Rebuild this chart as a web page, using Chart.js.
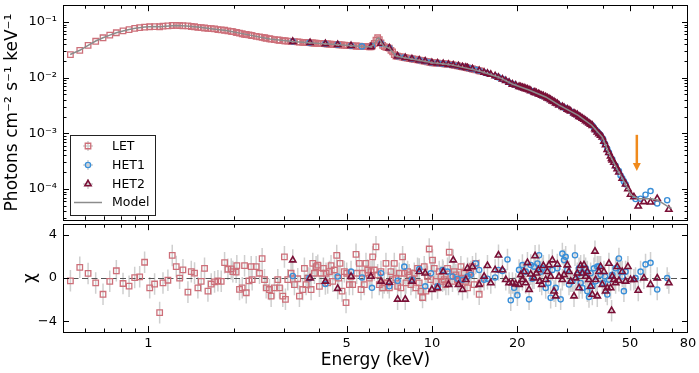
<!DOCTYPE html>
<html>
<head>
<meta charset="utf-8">
<title>Spectrum and residuals</title>
<script src="https://cdn.jsdelivr.net/npm/chart.js@4.4.1/dist/chart.umd.min.js"></script>
<style>
  html, body { margin: 0; padding: 0; background: #fff; }
  #wrap { position: relative; width: 699px; height: 373px; overflow: hidden; }
  #wrap canvas { position: absolute; left: 0; }
  #spec { top: 0; }
  #resid { top: 219px; }
</style>
</head>
<body>
<div id="wrap">
  <canvas id="spec" width="699" height="225"></canvas>
  <canvas id="resid" width="699" height="154"></canvas>
</div>
<script>
// ---- data (energy in keV, flux in photons cm^-2 s^-1 keV^-1, chi residuals) ----
const letEnergy = [
  0.531, 0.573, 0.613, 0.652, 0.692, 0.731, 0.771, 0.814, 0.855, 0.895,
  0.932, 0.970, 1.011, 1.052, 1.096, 1.126, 1.172, 1.214, 1.254, 1.289,
  1.324, 1.379, 1.417, 1.455, 1.495, 1.536, 1.578, 1.622, 1.666, 1.712,
  1.759, 1.807, 1.857, 1.908, 1.960, 1.986, 2.040, 2.051, 2.096, 2.143,
  2.184, 2.214, 2.262, 2.305, 2.323, 2.400, 2.466, 2.519, 2.568, 2.603,
  2.674, 2.710, 2.784, 2.861, 2.900, 2.979, 3.019, 3.044, 3.102, 3.187,
  3.274, 3.364, 3.410, 3.503, 3.551, 3.600, 3.649, 3.749, 3.800, 3.852,
  3.904, 3.958, 4.011, 4.064, 4.142, 4.233, 4.290, 4.349, 4.408, 4.468,
  4.529, 4.616, 4.692, 4.742, 4.820, 4.912, 4.979, 5.006, 5.115, 5.185,
  5.255, 5.399, 5.428, 5.547, 5.622, 5.698, 5.776, 5.854, 5.934, 6.014,
  6.096, 6.180, 6.263, 6.349, 6.436, 6.523, 6.612, 6.703, 6.792, 6.885,
  6.979, 7.075, 7.170, 7.268, 7.368, 7.466, 7.568, 7.671, 7.775, 7.882,
  7.989, 8.096, 8.207, 8.319, 8.431, 8.546, 8.663, 8.781, 8.899, 9.021,
  9.144, 9.268, 9.395, 9.523, 9.652, 9.784, 9.917, 10.05, 10.19, 10.33,
  10.47, 10.61, 10.76, 10.90, 11.05, 11.20, 11.35, 11.51, 11.66, 11.82,
  11.98, 12.15, 12.31, 12.48, 12.65, 12.82, 12.99, 13.17, 13.35, 13.53,
  13.72, 13.90, 14.09, 14.28, 14.68, 14.87
];
const letFlux = [
  0.026, 0.031, 0.038, 0.045, 0.052, 0.058, 0.064, 0.069, 0.073, 0.077,
  0.079, 0.081, 0.082, 0.0825, 0.082, 0.084, 0.085, 0.0865, 0.087, 0.086,
  0.0855, 0.085, 0.083, 0.082, 0.080, 0.079, 0.078, 0.077, 0.076, 0.075,
  0.073, 0.072, 0.071, 0.069, 0.068, 0.067, 0.065, 0.0645, 0.063, 0.0615,
  0.060, 0.0595, 0.0585, 0.0575, 0.057, 0.055, 0.054, 0.053, 0.052, 0.051,
  0.050, 0.0493, 0.0483, 0.0474, 0.0470, 0.0462, 0.0459, 0.0457, 0.0453, 0.0447,
  0.0443, 0.0438, 0.0436, 0.0431, 0.0429, 0.0427, 0.0425, 0.0421, 0.0419, 0.0418,
  0.0416, 0.0414, 0.0412, 0.0410, 0.0407, 0.0404, 0.0402, 0.0400, 0.0398, 0.0396,
  0.0394, 0.0392, 0.0390, 0.0389, 0.0386, 0.0383, 0.0381, 0.0380, 0.0377, 0.0375,
  0.0373, 0.0370, 0.0369, 0.0366, 0.0364, 0.0363, 0.0362, 0.0361, 0.0360, 0.0359,
  0.0358, 0.038, 0.041, 0.047, 0.052, 0.048, 0.042, 0.038, 0.036, 0.035,
  0.0345, 0.034, 0.031, 0.029, 0.026, 0.0245, 0.0242, 0.0239, 0.0236, 0.0233,
  0.0230, 0.0226, 0.0224, 0.0221, 0.0219, 0.0216, 0.0214, 0.0211, 0.0209, 0.0206,
  0.0204, 0.0201, 0.0198, 0.0196, 0.0193, 0.0190, 0.0188, 0.0185, 0.0184, 0.0183,
  0.0182, 0.0181, 0.0180, 0.0178, 0.0177, 0.0176, 0.0174, 0.0173, 0.0171, 0.0169,
  0.0167, 0.0165, 0.0163, 0.0161, 0.0158, 0.0156, 0.0154, 0.0152, 0.0150, 0.0147,
  0.0145, 0.0143, 0.0140, 0.0138, 0.0133, 0.0131
];
const letChi = [
  -0.25, 1.0, 0.43, -0.45, -1.5, -0.3, 0.68, -0.5, -0.75, 0.05,
  0.12, 1.47, -0.9, -0.55, -3.2, -0.45, -0.2, 2.1, 1.07, 0.0,
  0.77, -1.3, 0.6, 0.46, -0.9, -0.3, 0.9, -1.2, -0.55, -0.35,
  -0.25, -0.3, 1.43, 0.82, 0.85, 0.6, 0.55, 1.15, -1.05, -0.9,
  1.15, -1.36, -0.25, 1.06, -0.15, 1.06, 0.45, 1.8, -0.15, -0.9,
  -1.06, -1.67, -0.9, -0.15, -0.9, -1.67, 1.97, -1.97, -0.15, 0.45,
  -0.6, -0.06, -1.67, -1.06, 0.9, -0.6, 0.0, -1.06, 1.36, 0.45,
  1.06, 1.2, -0.76, 0.45, 0.9, 0.45, -0.45, 0.6, 1.15, -0.3,
  0.75, 2.1, 0.0, 1.36, -1.2, 0.6, -2.27, 0.45, -0.6, 0.15,
  -0.6, 2.2, 0.45, 1.36, -1.06, 0.45, -0.6, 1.36, 0.75, 0.0,
  0.6, 1.97, 0.75, 2.9, 0.3, -0.6, 0.6, -0.9, -0.45, 1.36,
  -0.45, -0.9, 0.6, -0.15, 1.36, 0.0, -0.76, 0.45, -0.9, 1.97,
  0.45, -0.45, 0.6, 0.3, -0.6, -0.15, 0.45, -0.9, 0.9, -0.45,
  -1.2, -1.8, 1.06, -1.2, 0.15, 2.7, -0.15, 1.67, 0.9, -0.3,
  -0.9, 0.6, 0.15, -0.3, -0.15, -0.6, 0.9, 2.4, 0.15, -0.3,
  0.6, 0.3, -0.15, -0.3, 1.06, 0.0, 0.45, -0.3, -0.9, 0.45,
  0.6, 1.06, -0.6, 1.36, -1.5, -0.45
];

const het1Energy = [
  3.230, 3.698, 4.210, 4.653, 5.185, 5.668, 6.146, 6.612, 7.075, 7.568,
  7.989, 8.502, 9.021, 9.471, 9.917, 10.47, 10.90, 11.35, 11.82, 12.31,
  12.82, 13.35, 13.72, 14.28, 14.68, 15.28, 15.70, 16.71, 17.17, 17.73,
  18.47, 18.97, 19.49, 20.02, 20.29, 20.85, 21.42, 22.01, 22.31, 22.61,
  22.92, 23.55, 23.87, 24.19, 24.52, 25.19, 25.74, 26.23, 26.59, 27.32,
  27.69, 28.45, 28.84, 29.23, 29.63, 30.03, 30.44, 31.27, 31.96, 32.57,
  33.02, 33.46, 33.91, 34.38, 34.84, 35.32, 35.80, 36.28, 36.78, 37.28,
  37.79, 38.30, 38.82, 39.35, 40.11, 40.76, 41.54, 42.10, 43.25, 44.44,
  45.65, 46.27, 46.90, 47.54, 48.19, 52.25, 54.42, 56.67, 59.02, 62.31,
  67.56
];
const het1Flux = [
  0.0445, 0.0424, 0.0405, 0.0391, 0.0375, 0.0364, 0.037, 0.041, 0.034, 0.0242,
  0.0230, 0.0217, 0.0206, 0.0197, 0.0188, 0.0182, 0.0178, 0.0174, 0.0169, 0.0163,
  0.0156, 0.0150, 0.0145, 0.0138, 0.0133, 0.0124, 0.0119, 0.0107, 0.0101, 0.0094,
  0.0085, 0.0079, 0.0075, 0.0071, 0.0070, 0.0066, 0.0064, 0.0060, 0.0058, 0.0057,
  0.0055, 0.0052, 0.0051, 0.0049, 0.0047, 0.0045, 0.0042, 0.0040, 0.0038, 0.0035,
  0.0034, 0.0031, 0.0030, 0.0029, 0.0028, 0.0027, 0.0026, 0.0024, 0.0022, 0.00215,
  0.0020, 0.00195, 0.00185, 0.00178, 0.00168, 0.0016, 0.00152, 0.00145, 0.00138, 0.00126,
  0.00115, 0.00108, 0.00099, 0.00092, 0.00080, 0.00065, 0.00052, 0.00045, 0.00034, 0.00026,
  0.00021, 0.000175, 0.000155, 0.000137, 0.000122, 0.000066, 0.000067, 0.000079, 0.000092, 0.000055,
  0.000063
];
const het1Chi = [
  0.2, 0.0, -0.55, 0.15, 0.6, 0.06, -0.9, 0.45, -0.76, -0.25,
  1.06, -0.15, 0.85, -0.76, 0.45, -0.76, 0.75, 0.6, 0.15, -0.06,
  -0.15, 0.15, 0.3, 1.36, 0.75, -0.15, -0.06, 0.06, 0.75, 0.67,
  1.73, -2.06, -0.9, -1.58, 0.76, 1.21, 0.6, -1.97, 1.21, -0.06,
  1.06, 1.36, 2.12, 0.6, 0.91, -0.91, -0.45, -1.82, 0.76, -0.91,
  0.91, -1.97, 2.27, 1.67, 1.97, 0.76, -0.6, -0.3, 2.12, 0.3,
  0.91, -0.45, -0.91, 0.45, 0.91, -1.21, -1.76, 0.45, -0.76, 0.91,
  -0.3, 1.06, 1.06, 0.3, -0.45, 0.15, -1.52, -0.15, 0.3, 0.91,
  1.82, 0.6, 0.15, -1.21, 0.6, 0.0, 0.6, 1.27, 1.42, -1.06,
  0.0
];

const het2Energy = [
  3.230, 3.718, 4.210, 4.653, 5.185, 6.096, 6.612, 7.075, 7.568, 8.054,
  8.502, 9.021, 9.471, 9.997, 10.47, 10.96, 11.44, 11.89, 12.41, 12.82,
  13.17, 13.35, 13.90, 14.68, 15.28, 15.70, 16.13, 16.71, 17.17, 17.73,
  18.22, 18.72, 19.23, 19.75, 20.29, 20.57, 20.85, 21.13, 21.42, 21.72,
  22.01, 22.31, 22.92, 23.11, 23.36, 23.74, 24.00, 24.39, 24.72, 25.19,
  25.53, 25.88, 26.23, 26.59, 26.96, 27.32, 27.69, 28.06, 28.84, 29.23,
  30.03, 30.44, 30.85, 31.70, 32.13, 32.57, 33.02, 33.46, 33.91, 34.38,
  34.84, 35.32, 35.80, 36.28, 36.78, 37.58, 37.79, 38.30, 38.82, 39.35,
  39.89, 40.43, 40.98, 41.54, 42.10, 42.67, 43.02, 43.25, 43.84, 44.44,
  45.04, 45.65, 46.90, 48.19, 49.11, 50.18, 51.56, 53.41, 55.91, 59.02,
  62.31, 68.48
];
const het2Flux = [
  0.0445, 0.0423, 0.0405, 0.0391, 0.0375, 0.0358, 0.041, 0.034, 0.0242, 0.0228,
  0.0217, 0.0206, 0.0197, 0.0186, 0.0182, 0.0178, 0.0173, 0.0168, 0.0162, 0.0156,
  0.0152, 0.0150, 0.0143, 0.0133, 0.0124, 0.0119, 0.0114, 0.0107, 0.0101, 0.0094,
  0.0088, 0.0082, 0.0076, 0.0073, 0.0069, 0.0068, 0.0066, 0.0065, 0.0063, 0.0062,
  0.0060, 0.0058, 0.0055, 0.0054, 0.0053, 0.0051, 0.0050, 0.0048, 0.0047, 0.0045,
  0.0043, 0.0042, 0.0040, 0.0038, 0.0037, 0.0035, 0.0034, 0.0032, 0.0030, 0.0029,
  0.0027, 0.0026, 0.0025, 0.0023, 0.0022, 0.00215, 0.0020, 0.00195, 0.00185, 0.00178,
  0.00168, 0.0016, 0.00152, 0.00145, 0.00138, 0.0012, 0.00115, 0.00105, 0.00098, 0.00092,
  0.00085, 0.00072, 0.00062, 0.00051, 0.00045, 0.00039, 0.00035, 0.00033, 0.00030, 0.00026,
  0.00023, 0.00020, 0.000155, 0.000122, 0.000100, 0.000080, 0.000072, 0.000049, 0.000059, 0.000058,
  0.000067, 0.000043
];
const het2Chi = [
  1.67, 0.0, -0.3, -0.97, 0.15, 0.15, -0.3, -0.4, -1.97, -1.97,
  -0.3, 0.6, 0.45, -1.06, -0.91, 0.6, -0.6, 1.67, -0.6, -1.06,
  -0.15, 0.91, 1.06, -0.6, 0.15, 1.15, -0.45, 0.76, 2.12, 0.76,
  -0.15, -0.45, -0.45, -0.55, -0.6, 0.3, -0.15, 0.6, -0.45, 1.42,
  -1.06, 0.36, 0.0, 2.06, 0.45, 0.76, -0.3, -0.6, 1.15, -0.15,
  0.6, 1.21, 0.15, 1.67, -1.21, -1.67, 1.27, 0.15, -0.15, 0.3,
  1.21, 0.6, -0.3, -1.67, 0.0, 0.45, -0.91, 1.15, 0.45, 1.21,
  0.15, 0.6, -0.15, -0.76, -1.52, 2.48, -0.15, -1.67, 0.6, 1.06,
  -0.6, 0.6, -1.21, -0.91, 1.36, -0.91, -3.03, 0.15, -0.15, -0.45,
  1.06, -0.24, 0.6, -0.3, 1.06, -0.15, -0.15, -1.15, 0.0, -0.6,
  0.0, -0.45
];

const modelEnergy = [
  0.53, 0.573, 0.613, 0.652, 0.692, 0.731, 0.771, 0.814, 0.855, 0.9,
  0.97, 1.05, 1.1, 1.15, 1.25, 1.36, 1.52, 1.69, 1.88, 2.1,
  2.28, 2.68, 3.23, 3.9, 4.72, 5.7, 6.1, 6.25, 6.4, 6.5,
  6.62, 6.75, 7.07, 7.3, 7.47, 8.1, 10.07, 11.5, 14.7, 17.2,
  19.2, 22, 25.2, 28.1, 32.8, 36.6, 39.9, 42, 45.6, 48.1,
  50.3, 53.4, 59.5, 62.6, 67.8, 70
];
const modelFlux = [
  0.026, 0.031, 0.038, 0.0455, 0.052, 0.058, 0.064, 0.069, 0.0735, 0.077,
  0.081, 0.0825, 0.082, 0.084, 0.086, 0.085, 0.080, 0.075, 0.070, 0.063,
  0.058, 0.0496, 0.0445, 0.0416, 0.039, 0.0363, 0.0358, 0.040, 0.050, 0.052,
  0.043, 0.037, 0.034, 0.028, 0.0245, 0.0226, 0.0185, 0.0173, 0.0132, 0.0102,
  0.0077, 0.0060, 0.0045, 0.0032, 0.0021, 0.0014, 0.00085, 0.00045, 0.00020, 0.000124,
  0.000078, 0.000067, 0.000067, 0.000063, 0.000049, 0.000045
];

const energyTicks = [1, 5, 10, 20, 50, 80];
const energyMinor = [0.6, 0.7, 0.8, 0.9, 2, 3, 4, 6, 7, 8, 9, 30, 40, 60, 70];
const fluxTicks = [1e-4, 1e-3, 1e-2, 1e-1];
const chiTicks = [-4, 0, 4];

// arrow marking the feature near 53 keV
const arrowEnergy = 52.8;
const arrowFrom = 9.4e-4;
const arrowTo = 2.1e-4;

// ---- helpers ----
const colors = {
  let: '#cd6f79',
  het1: '#3a8fd8',
  het2: '#7a0f36',
  model: '#8c8c8c',
  err: '#cfcfcf',
  arrow: '#f08a1c'
};
Chart.defaults.font.family = 'DejaVu Sans';
Chart.defaults.color = '#000';

const supMap = { '-': '\u207b', '0': '\u2070', '1': '\u00b9', '2': '\u00b2', '3': '\u00b3', '4': '\u2074', '5': '\u2075' };
function powLabel(v) {
  const e = String(Math.round(Math.log10(v)));
  return '10' + e.split('').map(c => supMap[c]).join('');
}
function chiLabel(v) {
  return v < 0 ? '\u2212' + Math.abs(v) : String(v);
}
function points(xs, ys) {
  return xs.map((x, i) => ({ x: x, y: ys[i] }));
}

// minor ticks on the flux axis, 2..9 in every decade
const fluxMinor = [];
for (let e = -5; e <= -1; e++) {
  for (let k = 2; k <= 9; k++) fluxMinor.push(k * Math.pow(10, e));
}

// the label paddings Chart.js reserves would shrink the plot area, drop them
function fixWidth(w) {
  return (scale) => {
    scale.width = w;
    scale.paddingTop = 0;
    scale.paddingBottom = 0;
  };
}
function fixHeight(h) {
  return (scale) => {
    scale.height = h;
    scale.paddingLeft = 0;
    scale.paddingRight = 0;
  };
}

// matplotlib style frame with inward ticks on all four sides
function frameTicks(yMajor, yMinor) {
  return {
    id: 'frameTicks',
    afterDatasetsDraw(chart) {
      const { ctx, chartArea: a } = chart;
      const sx = chart.scales.x, sy = chart.scales.y;
      ctx.save();
      ctx.strokeStyle = '#000';
      ctx.lineWidth = 1;
      ctx.beginPath();
      const xt = (vals, len) => vals.forEach(v => {
        const px = Math.round(sx.getPixelForValue(v)) + 0.5;
        if (px <= a.left + 1 || px >= a.right - 1) return;
        ctx.moveTo(px, a.bottom); ctx.lineTo(px, a.bottom - len);
        ctx.moveTo(px, a.top); ctx.lineTo(px, a.top + len);
      });
      const yt = (vals, len) => vals.forEach(v => {
        const py = Math.round(sy.getPixelForValue(v)) + 0.5;
        if (py <= a.top + 1 || py >= a.bottom - 1) return;
        ctx.moveTo(a.left, py); ctx.lineTo(a.left + len, py);
        ctx.moveTo(a.right, py); ctx.lineTo(a.right - len, py);
      });
      xt(energyTicks, 6);
      xt(energyMinor, 3.5);
      yt(yMajor, 6);
      yt(yMinor, 3.5);
      ctx.stroke();
      ctx.strokeRect(Math.round(a.left) + 0.5, Math.round(a.top) + 0.5,
                     Math.round(a.width) - 1, Math.round(a.height));
      ctx.restore();
    }
  };
}

function drawMarker(ctx, style, x, y, color) {
  ctx.save();
  ctx.strokeStyle = color;
  ctx.beginPath();
  if (style === 'rect') {
    ctx.lineWidth = 1.3;
    ctx.rect(x - 2.75, y - 2.75, 5.5, 5.5);
  } else if (style === 'circle') {
    ctx.lineWidth = 1.4;
    ctx.arc(x, y, 2.6, 0, Math.PI * 2);
  } else {
    const r = 3.6;
    ctx.lineWidth = 1.6;
    ctx.moveTo(x, y - r);
    ctx.lineTo(x + r * 0.866, y + r / 2);
    ctx.lineTo(x - r * 0.866, y + r / 2);
    ctx.closePath();
  }
  ctx.stroke();
  ctx.restore();
}

const legendBox = {
  id: 'legendBox',
  afterDraw(chart) {
    const ctx = chart.ctx;
    ctx.save();
    ctx.fillStyle = '#fff';
    ctx.strokeStyle = '#222';
    ctx.lineWidth = 1;
    ctx.fillRect(70.5, 135.5, 85, 80);
    ctx.strokeRect(70.5, 135.5, 85, 80);
    const rows = [
      { label: 'LET', style: 'rect', color: colors.let, y: 146 },
      { label: 'HET1', style: 'circle', color: colors.het1, y: 165 },
      { label: 'HET2', style: 'triangle', color: colors.het2, y: 184 }
    ];
    ctx.font = '12.5px "DejaVu Sans"';
    ctx.textBaseline = 'middle';
    rows.forEach(r => {
      ctx.strokeStyle = colors.err;
      ctx.lineWidth = 1.5;
      ctx.beginPath();
      ctx.moveTo(83, r.y); ctx.lineTo(93, r.y);
      ctx.moveTo(88, r.y - 5); ctx.lineTo(88, r.y + 5);
      ctx.stroke();
      drawMarker(ctx, r.style, 88, r.y, r.color);
      ctx.fillStyle = '#000';
      ctx.fillText(r.label, 112, r.y + 1);
    });
    ctx.strokeStyle = colors.model;
    ctx.lineWidth = 1.5;
    ctx.beginPath();
    ctx.moveTo(74, 202.5); ctx.lineTo(102, 202.5);
    ctx.stroke();
    ctx.fillStyle = '#000';
    ctx.fillText('Model', 112, 203);
    ctx.restore();
  }
};

const arrowMark = {
  id: 'arrowMark',
  afterDatasetsDraw(chart) {
    const ctx = chart.ctx;
    const x = chart.scales.x.getPixelForValue(arrowEnergy);
    const y0 = chart.scales.y.getPixelForValue(arrowFrom);
    const y1 = chart.scales.y.getPixelForValue(arrowTo);
    ctx.save();
    ctx.strokeStyle = colors.arrow;
    ctx.fillStyle = colors.arrow;
    ctx.lineWidth = 2.5;
    ctx.beginPath();
    ctx.moveTo(x, y0); ctx.lineTo(x, y1 - 7);
    ctx.stroke();
    ctx.beginPath();
    ctx.moveTo(x - 4, y1 - 8);
    ctx.lineTo(x + 4, y1 - 8);
    ctx.lineTo(x, y1);
    ctx.closePath();
    ctx.fill();
    ctx.restore();
  }
};

const residGuides = {
  id: 'residGuides',
  beforeDatasetsDraw(chart) {
    const { ctx, chartArea: a } = chart;
    const sx = chart.scales.x, sy = chart.scales.y;
    ctx.save();
    ctx.beginPath();
    ctx.rect(a.left, a.top, a.width, a.height);
    ctx.clip();
    // unit error bars of the residuals
    ctx.strokeStyle = colors.err;
    ctx.lineWidth = 1.5;
    ctx.beginPath();
    [[letEnergy, letChi], [het1Energy, het1Chi], [het2Energy, het2Chi]].forEach(([xs, ys]) => {
      xs.forEach((e, i) => {
        const px = sx.getPixelForValue(e);
        ctx.moveTo(px, sy.getPixelForValue(ys[i] - 1));
        ctx.lineTo(px, sy.getPixelForValue(ys[i] + 1));
      });
    });
    ctx.stroke();
    // zero line
    const y0 = Math.round(sy.getPixelForValue(0)) + 0.5;
    ctx.strokeStyle = '#555';
    ctx.lineWidth = 1.2;
    ctx.setLineDash([6, 3.5]);
    ctx.beginPath();
    ctx.moveTo(a.left, y0); ctx.lineTo(a.right, y0);
    ctx.stroke();
    ctx.restore();
  }
};

function markerSet(label, xs, ys, style, radius, width, color, order) {
  return {
    label: label,
    data: points(xs, ys),
    pointStyle: style,
    pointRadius: radius,
    pointHoverRadius: radius,
    pointBorderWidth: width,
    borderColor: color,
    backgroundColor: 'rgba(0,0,0,0)',
    showLine: false,
    order: order
  };
}

const xAxisBase = {
  type: 'logarithmic',
  min: 0.5,
  max: 80,
  grid: { display: false, drawTicks: false },
  border: { display: false }
};

// ---- top panel: spectrum ----
new Chart(document.getElementById('spec'), {
  type: 'scatter',
  data: {
    datasets: [
      {
        label: 'Model',
        data: points(modelEnergy, modelFlux),
        showLine: true,
        borderColor: colors.model,
        borderWidth: 1.5,
        pointRadius: 0,
        tension: 0,
        order: 0
      },
      markerSet('HET2', het2Energy, het2Flux, 'triangle', 3.6, 1.6, colors.het2, 1),
      markerSet('HET1', het1Energy, het1Flux, 'circle', 2.6, 1.4, colors.het1, 2),
      markerSet('LET', letEnergy, letFlux, 'rect', 3.9, 1.3, colors.let, 3)
    ]
  },
  options: {
    responsive: false,
    animation: false,
    layout: { padding: { top: 3, bottom: 3, right: 11, left: 0 } },
    plugins: { legend: { display: false }, tooltip: { enabled: false } },
    scales: {
      x: Object.assign({}, xAxisBase, { display: false }),
      y: {
        type: 'logarithmic',
        min: 2.8e-5,
        max: 0.2,
        grid: { display: false, drawTicks: false },
        border: { display: false },
        afterBuildTicks: (scale) => { scale.ticks = fluxTicks.map(v => ({ value: v })); },
        afterFit: fixWidth(63),
        ticks: {
          autoSkip: false,
          padding: 6,
          font: { size: 13 },
          callback: (v) => powLabel(v)
        },
        title: {
          display: true,
          text: 'Photons cm\u207b\u00b2 s\u207b\u00b9 keV\u207b\u00b9',
          font: { size: 17 },
          padding: { top: 2, bottom: 0 }
        }
      }
    }
  },
  plugins: [frameTicks(fluxTicks, fluxMinor), arrowMark, legendBox]
});

// ---- bottom panel: residuals ----
new Chart(document.getElementById('resid'), {
  type: 'scatter',
  data: {
    datasets: [
      markerSet('HET2', het2Energy, het2Chi, 'triangle', 3.6, 1.6, colors.het2, 1),
      markerSet('HET1', het1Energy, het1Chi, 'circle', 2.6, 1.4, colors.het1, 2),
      markerSet('LET', letEnergy, letChi, 'rect', 3.9, 1.3, colors.let, 3)
    ]
  },
  options: {
    responsive: false,
    animation: false,
    layout: { padding: { top: 3, bottom: 0, right: 11, left: 0 } },
    plugins: { legend: { display: false }, tooltip: { enabled: false } },
    scales: {
      x: Object.assign({}, xAxisBase, {
        afterBuildTicks: (scale) => { scale.ticks = energyTicks.map(v => ({ value: v })); },
        afterFit: fixHeight(41),
        ticks: {
          autoSkip: false,
          maxRotation: 0,
          padding: 4,
          font: { size: 13 },
          callback: (v) => String(v)
        },
        title: {
          display: true,
          text: 'Energy (keV)',
          font: { size: 17 },
          padding: { top: 0, bottom: 2 }
        }
      }),
      y: {
        type: 'linear',
        min: -5,
        max: 5,
        grid: { display: false, drawTicks: false },
        border: { display: false },
        afterBuildTicks: (scale) => { scale.ticks = chiTicks.map(v => ({ value: v })); },
        afterFit: fixWidth(63),
        ticks: {
          autoSkip: false,
          padding: 6,
          font: { size: 13 },
          callback: (v) => chiLabel(v)
        },
        title: {
          display: true,
          text: '\u03c7',
          font: { size: 17 },
          padding: { top: 20, bottom: 0 }
        }
      }
    }
  },
  plugins: [residGuides, frameTicks(chiTicks, [])]
});
</script>
</body>
</html>
